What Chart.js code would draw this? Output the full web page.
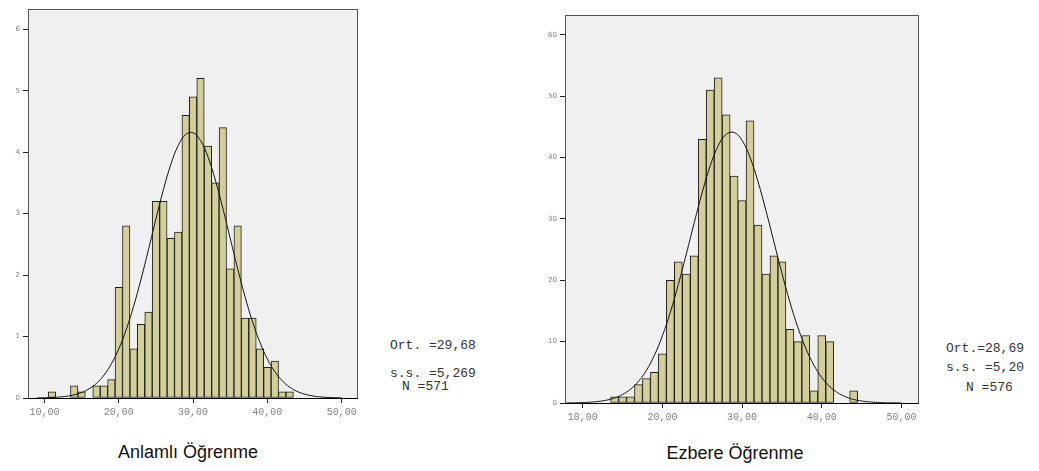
<!DOCTYPE html>
<html>
<head>
<meta charset="utf-8">
<script src="https://cdn.jsdelivr.net/npm/chart.js@4.4.1/dist/chart.umd.min.js"></script>
<style>
  html, body { margin:0; padding:0; background:#fff; width:1039px; height:471px; overflow:hidden; }
  .wrap { position:absolute; }
  .stat { position:absolute; font-family:"Liberation Mono", "DejaVu Sans Mono", monospace; font-size:13px; color:#333; white-space:pre; line-height:14px; }
  .title { position:absolute; font-family:"Liberation Sans", Arial, sans-serif; font-size:18px; color:#111; white-space:nowrap; transform:translateX(-50%); line-height:22px; }
</style>
</head>
<body>
<div class="wrap" style="left:0;top:0;width:370px;height:430px;"><canvas id="c1" width="370" height="430"></canvas></div>
<div class="wrap" style="left:540px;top:0;width:390px;height:430px;"><canvas id="c2" width="390" height="430"></canvas></div>

<div class="stat" style="left:390px;top:339px;">Ort. =29,68</div>
<div class="stat" style="left:390px;top:367px;">s.s. =5,269</div>
<div class="stat" style="left:402px;top:380px;">N =571</div>

<div class="stat" style="left:946px;top:342px;">Ort.=28,69</div>
<div class="stat" style="left:946px;top:361px;">s.s. =5,20</div>
<div class="stat" style="left:966px;top:381px;">N =576</div>

<div class="title" style="left:188px;top:441px;">Anlamlı Öğrenme</div>
<div class="title" style="left:735px;top:442px;">Ezbere Öğrenme</div>

<script>
// ---- Data ----
const xTicks = [10, 20, 30, 40, 50];

// Left: Anlamlı Öğrenme
const leftBins   = [11,12,13,14,15,16,17,18,19,20,21,22,23,24,25,26,27,28,29,30,31,32,33,34,35,36,37,38,39,40,41,42,43];
const leftValues = [0.1,null,null,0.2,0.1,null,0.2,0.2,0.3,1.8,2.8,0.8,1.2,1.4,3.2,3.2,2.6,2.7,4.6,4.9,5.2,4.1,3.5,4.4,2.1,2.8,1.3,1.3,0.8,0.5,0.6,0.1,0.1];
const leftYTicks = [0, 1, 2, 3, 4, 5, 6];
const leftCurveX = [9,10,11,12,13,14,15,16,17,18,19,20,21,22,23,24,25,26,27,28,29,30,31,32,33,34,35,36,37,38,39,40,41,42,43,44,45,46,47,48,49,50];
const leftCurveY = [0.002,0.004,0.008,0.016,0.029,0.052,0.089,0.149,0.239,0.371,0.554,0.800,1.113,1.495,1.935,2.418,2.914,3.388,3.799,4.109,4.287,4.315,4.189,3.924,3.545,3.089,2.597,2.106,1.647,1.243,0.905,0.635,0.430,0.281,0.177,0.108,0.063,0.036,0.019,0.010,0.005,0.003];

// Right: Ezbere Öğrenme
const rightBins   = [14,15,16,17,18,19,20,21,22,23,24,25,26,27,28,29,30,31,32,33,34,35,36,37,38,39,40,41,42,43,44];
const rightValues = [1,1,1,3,4,5,8,20,23,21,24,43,51,53,47,37,33,46,29,21,24,23,12,10,11,2,11,10,null,null,2];
const rightYTicks = [0, 10, 20, 30, 40, 50, 60];
const rightCurveX = [8,9,10,11,12,13,14,15,16,17,18,19,20,21,22,23,24,25,26,27,28,29,30,31,32,33,34,35,36,37,38,39,40,41,42,43,44,45,46,47,48,49,50];
const rightCurveY = [0.016,0.034,0.069,0.136,0.256,0.466,0.818,1.382,2.250,3.531,5.341,7.787,10.94,14.80,19.32,24.28,29.42,34.35,38.66,41.92,43.80,44.11,42.81,40.04,36.09,31.34,26.24,21.16,16.45,12.33,8.90,6.19,4.151,2.681,1.670,1.002,0.579,0.323,0.174,0.090,0.045,0.022,0.010];

// ---- Chart helpers ----
const frame = {
  id: 'frame',
  beforeDraw(chart) {
    const a = chart.chartArea, ctx = chart.ctx;
    ctx.save();
    ctx.fillStyle = '#f0f0f0';
    ctx.fillRect(a.left, a.top, a.right - a.left, a.bottom - a.top);
    ctx.restore();
  },
  afterDraw(chart) {
    const a = chart.chartArea, ctx = chart.ctx;
    ctx.save();
    ctx.strokeStyle = '#555';
    ctx.lineWidth = 1;
    ctx.strokeRect(a.left + 0.5, a.top + 0.5, a.right - a.left - 1, a.bottom - a.top);
    ctx.strokeStyle = '#000';
    ctx.beginPath();
    ctx.moveTo(a.left, Math.round(a.bottom) + 0.5);
    ctx.lineTo(a.right, Math.round(a.bottom) + 0.5);
    ctx.stroke();
    ctx.restore();
  }
};

function makeChart(id, bins, values, curveX, curveY, yTicks, yMax, cfg) {
  const bars = bins.map((b, i) => ({ x: b, y: values[i] }));
  const curve = curveX.map((x, i) => ({ x: x, y: curveY[i] }));
  return new Chart(document.getElementById(id), {
    data: {
      datasets: [
        {
          type: 'line', data: curve, order: 0,
          borderColor: '#111', borderWidth: 1, pointRadius: 0, tension: 0.4, fill: false
        },
        {
          type: 'bar', data: bars, order: 1,
          backgroundColor: '#d3cf9a', borderColor: '#1e1e1e', borderWidth: 1,
          borderSkipped: false, barPercentage: 1, categoryPercentage: 1
        }
      ]
    },
    options: {
      responsive: false, animation: false, devicePixelRatio: 1,
      layout: { padding: { top: cfg.top, right: cfg.right, left: 0, bottom: 0 } },
      plugins: { legend: { display: false }, tooltip: { enabled: false } },
      scales: {
        x: {
          type: 'linear', min: 7.78, max: 52.2, offset: false,
          afterFit(s) { s.height = cfg.xh; },
          afterBuildTicks(s) { s.ticks = xTicks.map(v => ({ value: v })); },
          grid: { display: true, offset: false, drawOnChartArea: false, drawTicks: true, tickLength: 5, color: '#222' },
          border: { display: false },
          ticks: {
            color: '#808080', padding: 3, maxRotation: 0, autoSkip: false,
            font: { family: 'Liberation Mono', size: 10 },
            callback: v => v.toFixed(2).replace('.', ',')
          }
        },
        y: {
          min: 0, max: yMax,
          afterFit(s) { s.width = cfg.yw; },
          afterBuildTicks(s) { s.ticks = yTicks.map(v => ({ value: v })); },
          grid: { display: true, drawOnChartArea: false, drawTicks: true, tickLength: 5, color: '#222' },
          border: { display: false },
          ticks: { color: '#808080', padding: 3, font: { family: 'DejaVu Sans', size: 7 } }
        }
      }
    },
    plugins: [frame]
  });
}

makeChart('c1', leftBins, leftValues, leftCurveX, leftCurveY, leftYTicks, 6.33, { top: 9, right: 12, xh: 32, yw: 28 });
makeChart('c2', rightBins, rightValues, rightCurveX, rightCurveY, rightYTicks, 63.26, { top: 15, right: 11, xh: 27, yw: 25 });
</script>
</body>
</html>
